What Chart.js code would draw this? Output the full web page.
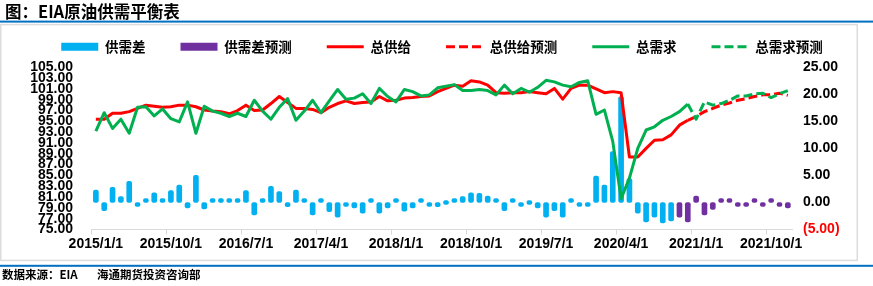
<!DOCTYPE html>
<html>
<head>
<meta charset="utf-8">
<script src="https://cdn.jsdelivr.net/npm/chart.js@4/dist/chart.umd.min.js"></script>
<style>
  html, body { margin: 0; padding: 0; background: #fff; }
  #c { display: block; }
</style>
</head>
<body>
<canvas id="c" width="873" height="286"></canvas>
<script>
// ---- categories (monthly) ----
const months = [
  '2015/1/1','2015/2/1','2015/3/1','2015/4/1','2015/5/1','2015/6/1','2015/7/1','2015/8/1','2015/9/1','2015/10/1','2015/11/1','2015/12/1',
  '2016/1/1','2016/2/1','2016/3/1','2016/4/1','2016/5/1','2016/6/1','2016/7/1','2016/8/1','2016/9/1','2016/10/1','2016/11/1','2016/12/1',
  '2017/1/1','2017/2/1','2017/3/1','2017/4/1','2017/5/1','2017/6/1','2017/7/1','2017/8/1','2017/9/1','2017/10/1','2017/11/1','2017/12/1',
  '2018/1/1','2018/2/1','2018/3/1','2018/4/1','2018/5/1','2018/6/1','2018/7/1','2018/8/1','2018/9/1','2018/10/1','2018/11/1','2018/12/1',
  '2019/1/1','2019/2/1','2019/3/1','2019/4/1','2019/5/1','2019/6/1','2019/7/1','2019/8/1','2019/9/1','2019/10/1','2019/11/1','2019/12/1',
  '2020/1/1','2020/2/1','2020/3/1','2020/4/1','2020/5/1','2020/6/1','2020/7/1','2020/8/1','2020/9/1','2020/10/1','2020/11/1','2020/12/1',
  '2021/1/1','2021/2/1','2021/3/1','2021/4/1','2021/5/1','2021/6/1','2021/7/1','2021/8/1','2021/9/1','2021/10/1','2021/11/1','2021/12/1'
];
// labels shown on the x axis
const xTickLabels = ['2015/1/1','2015/10/1','2016/7/1','2017/4/1','2018/1/1','2018/10/1','2019/7/1','2020/4/1','2021/1/1','2021/10/1'];

// ---- series (million b/d) ----
// total supply, actual: 2015/1 .. 2020/12
const supply = [
  95.4, 95.4, 96.5, 96.5, 96.8, 97.4, 98.0, 97.8, 97.6, 97.7, 98.0, 98.0,
  97.7, 97.1, 96.9, 96.8, 96.4, 97.0, 98.0, 97.0, 97.1, 98.3, 99.6, 98.5,
  97.4, 97.4, 97.2, 96.6, 97.6, 98.3, 98.8, 98.3, 98.5, 98.6, 99.6, 98.8,
  98.9, 99.3, 99.4, 99.6, 99.7, 100.5, 101.1, 101.7, 101.5, 102.5, 102.3, 101.7,
  100.3, 100.2, 100.3, 100.3, 100.5, 100.3, 100.1, 101.1, 99.1, 101.1, 101.7, 101.7,
  101.0, 100.3, 100.5, 100.3, 88.4, 88.4, 90.0, 91.5, 91.6, 92.5, 94.3, 95.2
];
// total supply forecast: 2020/12 .. 2021/12
const supplyForecast = [95.2, 95.9, 96.8, 97.4, 98.0, 98.4, 98.9, 99.2, 99.6, 99.9, 99.9, 100.2, 99.8];

// total demand, actual: 2015/1 .. 2020/12
const demand = [
  93.2, 96.6, 93.7, 95.4, 92.8, 97.6, 97.7, 96.0, 97.3, 95.5, 94.9, 98.6,
  92.8, 97.8, 96.9, 96.5, 95.9, 96.5, 95.9, 98.9, 96.9, 95.4, 97.6, 99.2,
  95.2, 96.9, 98.9, 96.6, 98.8, 100.9, 99.1, 99.3, 100.1, 98.3, 101.1, 99.6,
  98.6, 100.9, 100.5, 99.7, 99.9, 101.2, 101.5, 101.8, 100.7, 100.7, 100.9, 100.7,
  99.9, 101.7, 100.1, 101.1, 100.4, 101.3, 102.6, 102.3, 101.7, 101.4, 102.2, 102.5,
  96.3, 97.1, 91.3, 80.7, 84.5, 90.0, 93.4, 94.0, 95.2, 95.9, 96.8, 98.2
];
// total demand forecast: 2020/12 .. 2021/12
const demandForecast = [98.2, 95.4, 98.6, 98.0, 98.3, 98.9, 99.7, 99.7, 100.1, 100.2, 99.4, 100.1, 100.7];

// supply-demand balance, actual: 2015/1 .. 2020/10
const balance = [
  2.3, -1.5, 2.8, 1.1, 3.9, -0.5, 0.3, 1.8, 0.3, 2.2, 3.2, -1.0,
  5.0, -1.2, 0.3, 0.3, 0.3, 0.3, 2.2, -2.3, 0.2, 3.0, 2.0, -0.8,
  2.3, 0.7, -2.3, 0.2, -1.7, -2.7, -0.2, -1.0, -2.0, 0.4, -2.0, -1.0,
  0.6, -1.6, -1.0, 0.2, -0.5, -0.8, 0.0, 0.2, 1.1, 1.8, 1.7, 1.2,
  0.5, -1.5, 0.1, -0.6, 0.0, -1.0, -2.7, -1.5, -2.7, 0.4, -0.2, -0.7,
  4.9, 3.2, 9.4, 19.6, 4.4, -2.0, -3.6, -2.7, -3.8, -3.4
];
// balance forecast: 2020/11 .. 2021/12
const balanceForecast = [-2.7, -3.6, 1.2, -2.3, -1.3, 0.2, 0.3, -0.5, -0.5, 0.1, -0.2, 0.6, -0.2, -1.0];

// ---- texts ----
const titleText = '图：EIA原油供需平衡表';
const sourceText = '数据来源：EIA';
const orgText = '海通期货投资咨询部';
const seriesNames = ['供需差', '供需差预测', '总供给', '总供给预测', '总需求', '总需求预测'];

// align a partial series onto the month categories
function place(arr, startLabel) {
  const start = months.indexOf(startLabel);
  return months.map((_, i) => (i >= start && i - start < arr.length) ? arr[i - start] : null);
}

const CJK = '"Noto Sans CJK SC", "Noto Sans", sans-serif';
const NUM = '"Liberation Sans", Arial, sans-serif';

const decor = {
  id: 'decor',
  beforeDraw(chart) {
    const c = chart.ctx;
    c.save();
    c.fillStyle = '#ffffff';
    c.fillRect(0, 0, chart.width, chart.height);
    // light frame
    c.strokeStyle = '#dcdcdc';
    c.lineWidth = 1.5;
    c.strokeRect(0.75, 24.6, 856.5, 235.8);
    // blue rules
    c.fillStyle = '#0070C0';
    c.fillRect(0, 20.6, chart.width, 2);
    c.fillRect(0, 264.8, chart.width, 2);
    // title + footer
    c.fillStyle = '#000';
    c.textBaseline = 'middle';
    c.textAlign = 'left';
    c.font = 'bold 16.5px ' + CJK;
    c.fillText(titleText, 5, 11.5);
    c.font = 'bold 11.5px ' + CJK;
    c.fillText(sourceText, 2, 274.5);
    c.fillText(orgText, 97, 274.5);
    c.restore();
  }
};

new Chart(document.getElementById('c'), {
  type: 'bar',
  data: {
    labels: months,
    datasets: [
      { type: 'bar', label: seriesNames[0], data: place(balance, '2015/1/1'), xAxisID: 'x', yAxisID: 'y1',
        backgroundColor: '#00B0F0', barThickness: 5, borderRadius: 2, borderSkipped: false,
        minBarLength: 4, grouped: false, order: 3 },
      { type: 'bar', label: seriesNames[1], data: place(balanceForecast, '2020/11/1'), xAxisID: 'x', yAxisID: 'y1',
        backgroundColor: '#7030A0', barThickness: 5, borderRadius: 2, borderSkipped: false,
        minBarLength: 4, grouped: false, order: 3 },
      { type: 'line', label: seriesNames[2], data: place(supply, '2015/1/1'), xAxisID: 'x', yAxisID: 'y',
        borderColor: '#FF0000', backgroundColor: '#FF0000', borderWidth: 3, pointRadius: 0,
        tension: 0, fill: false, borderJoinStyle: 'round', order: 2 },
      { type: 'line', label: seriesNames[3], data: place(supplyForecast, '2020/12/1'), xAxisID: 'x', yAxisID: 'y',
        borderColor: '#FF0000', backgroundColor: '#FF0000', borderWidth: 3, pointRadius: 0,
        borderDash: [9, 4], tension: 0, fill: false, borderJoinStyle: 'round', order: 2 },
      { type: 'line', label: seriesNames[4], data: place(demand, '2015/1/1'), xAxisID: 'x', yAxisID: 'y',
        borderColor: '#00B050', backgroundColor: '#00B050', borderWidth: 3, pointRadius: 0,
        tension: 0, fill: false, borderJoinStyle: 'round', order: 1 },
      { type: 'line', label: seriesNames[5], data: place(demandForecast, '2020/12/1'), xAxisID: 'x', yAxisID: 'y',
        borderColor: '#00B050', backgroundColor: '#00B050', borderWidth: 3, pointRadius: 0,
        borderDash: [9, 4], tension: 0, fill: false, borderJoinStyle: 'round', order: 1 }
    ]
  },
  options: {
    responsive: false,
    animation: false,
    devicePixelRatio: 1,
    layout: { padding: { left: 11, right: 0, top: 5, bottom: 0 } },
    plugins: {
      tooltip: { enabled: false },
      title: { display: false },
      legend: {
        display: true,
        position: 'top',
        align: 'center',
        labels: {
          usePointStyle: true,
          pointStyleWidth: 37,
          boxHeight: 8,
          padding: 35,
          color: '#000',
          font: { family: CJK, size: 13.5, weight: 'bold' },
          generateLabels(chart) {
            return chart.data.datasets.map((ds, i) => {
              const isBar = ds.type === 'bar';
              return {
                text: ds.label,
                datasetIndex: i,
                fillStyle: isBar ? ds.backgroundColor : ds.borderColor,
                strokeStyle: isBar ? ds.backgroundColor : ds.borderColor,
                lineWidth: isBar ? 0 : 3,
                lineDash: ds.borderDash || [],
                pointStyle: isBar ? 'rect' : 'line',
                fontColor: '#000',
                hidden: false
              };
            });
          }
        }
      }
    },
    scales: {
      x: {
        type: 'category',
        offset: true,
        grid: {
          display: true, drawOnChartArea: false, drawTicks: true, tickLength: 5, offset: true,
          color: (ctx) => (ctx.index !== undefined && xTickLabels.includes(months[ctx.index])) ? '#d9d9d9' : 'rgba(0,0,0,0)'
        },
        border: { display: true, color: '#d9d9d9', width: 1 },
        ticks: {
          autoSkip: false, maxRotation: 0, minRotation: 0, padding: 1,
          color: '#000',
          font: { family: NUM, size: 14, weight: 'bold' },
          callback(value, index) {
            const lab = months[index];
            return xTickLabels.includes(lab) ? lab : '';
          }
        },
        afterFit(s) { s.height = 56.5; }
      },
      spacer: {
        type: 'linear', position: 'top', display: true,
        grid: { display: false, drawTicks: false },
        border: { display: false },
        ticks: { display: false },
        afterFit(s) { s.height = 3.8; }
      },
      y: {
        type: 'linear', position: 'left', min: 75, max: 105,
        grid: { display: false, drawTicks: false },
        border: { display: false },
        ticks: {
          stepSize: 2, autoSkip: false, padding: 18.7, color: '#000',
          font: { family: NUM, size: 14, weight: 'bold' },
          callback: (v) => Number(v).toFixed(2)
        },
        afterFit(s) { s.width = 80.7; }
      },
      y1: {
        type: 'linear', position: 'right', min: -5, max: 25,
        grid: { display: false, drawTicks: false },
        border: { display: false },
        ticks: {
          stepSize: 5, autoSkip: false, padding: 11,
          color: (ctx) => (ctx.tick && ctx.tick.value < 0) ? '#FF0000' : '#000',
          font: { family: NUM, size: 14, weight: 'bold' },
          callback: (v) => v < 0 ? '(' + Math.abs(v).toFixed(2) + ')' : Number(v).toFixed(2)
        },
        afterFit(s) { s.width = 81; }
      }
    }
  },
  plugins: [decor]
});
</script>
</body>
</html>
